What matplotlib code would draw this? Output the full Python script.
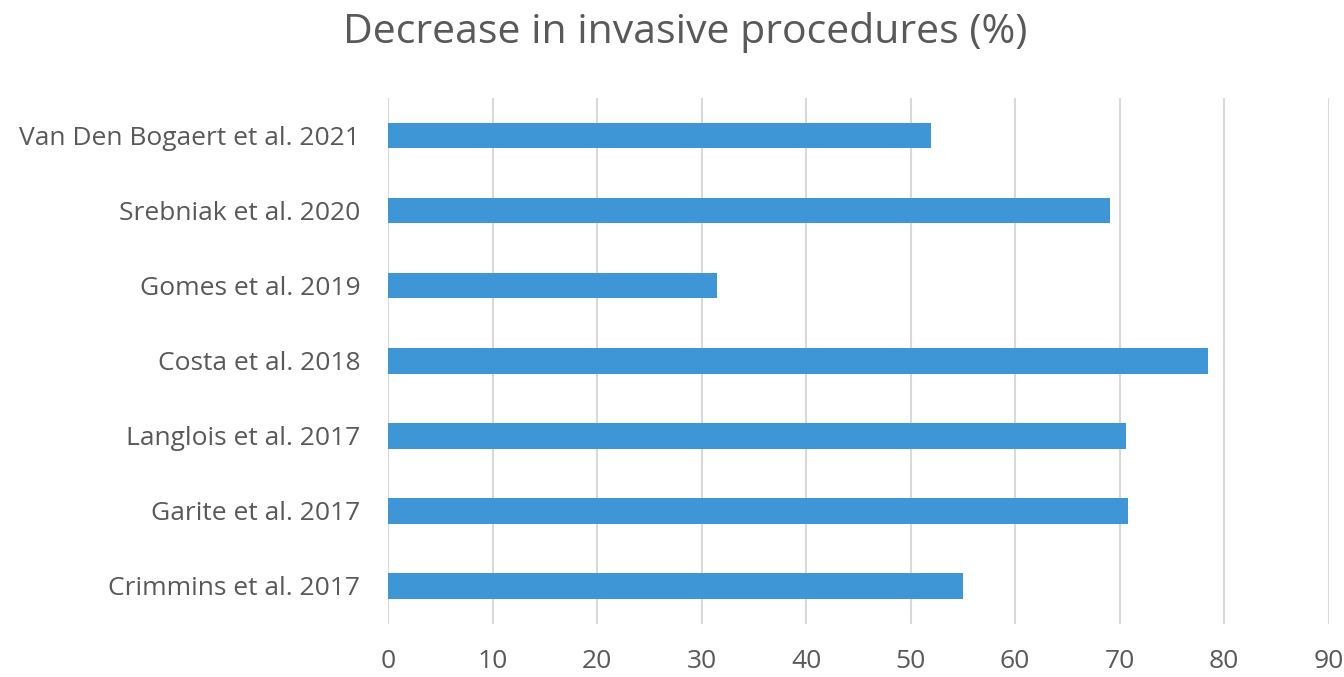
import matplotlib.pyplot as plt
import numpy as np

studies = [
    'Crimmins et al. 2017',
    'Garite et al. 2017',
    'Langlois et al. 2017',
    'Costa et al. 2018',
    'Gomes et al. 2019',
    'Srebniak et al. 2020',
    'Van Den Bogaert et al. 2021',
]
decrease = [55.0, 70.8, 70.6, 78.5, 31.5, 69.1, 52.0]
xticks = [0, 10, 20, 30, 40, 50, 60, 70, 80, 90]

text_color = '#595959'
bar_color = '#3f96d6'

plt.rcParams['font.family'] = ['Open Sans', 'DejaVu Sans']

fig = plt.figure(figsize=(13.44, 6.77), dpi=100)
ax = fig.add_axes([0.2887, 0.079, 0.6998, 0.7762])

y = np.arange(len(studies))
ax.barh(y, decrease, height=0.34, color=bar_color, zorder=3)

ax.set_xlim(0, 90)
ax.set_ylim(-0.5, len(studies) - 0.5)
ax.set_xticks(xticks)
ax.set_yticks(y)
ax.set_yticklabels(studies)
ax.grid(axis='x', color='#d9d9d9', linewidth=1.5, zorder=0)
ax.grid(axis='y', visible=False)
for s in ax.spines.values():
    s.set_visible(False)
ax.tick_params(axis='both', length=0, labelsize=19, colors=text_color)
ax.tick_params(axis='y', pad=20)
ax.tick_params(axis='x', pad=18)

fig.text(0.51, 0.952, 'Decrease in invasive procedures (%)', ha='center', va='center',
         fontsize=29.5, color=text_color)

fig.savefig('out.png', dpi=100, facecolor='white')
